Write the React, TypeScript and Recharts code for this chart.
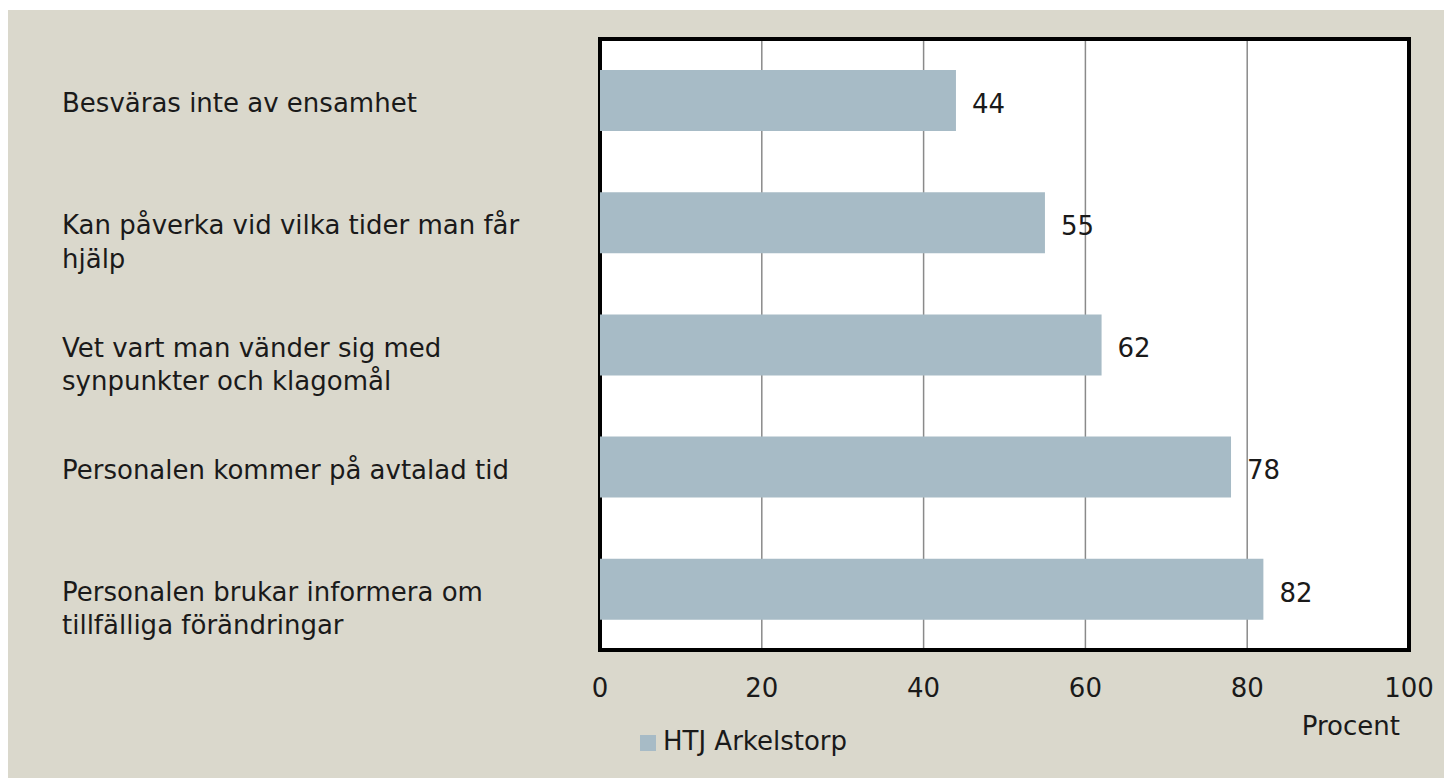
import { BarChart, Bar, XAxis, YAxis, CartesianGrid, Legend, ReferenceArea, LabelList } from 'recharts';

const categories = [
  'Besväras inte av ensamhet',
  'Kan påverka vid vilka tider man får\nhjälp',
  'Vet vart man vänder sig med\nsynpunkter och klagomål',
  'Personalen kommer på avtalad tid',
  'Personalen brukar informera om\ntillfälliga förändringar',
];

const values = [44, 55, 62, 78, 82];

const xTicks = [0, 20, 40, 60, 80, 100];

const seriesName = 'HTJ Arkelstorp';

const data = categories.map((name, i) => ({ name, value: values[i] }));

const FONT = '"DejaVu Sans", sans-serif';
const TEXT = '#1a1a1a';

// left-aligned, multi-line category labels
const CategoryTick = (props: any) => {
  const { y, payload } = props;
  const lines = String(payload.value).split('\n');
  return (
    <text x={54} y={y + 12} textAnchor="start" fill={TEXT} fontSize={26} fontFamily={FONT}>
      {lines.map((line, i) => (
        <tspan key={i} x={54} dy={i === 0 ? 0 : 33.5}>
          {line}
        </tspan>
      ))}
    </text>
  );
};

const App = () => {
  return (
    <div style={{ width: 1444, height: 768, marginTop: 2, backgroundColor: '#dad8cc' }}>
      <BarChart
        width={1444}
        height={768}
        data={data}
        layout="vertical"
        margin={{ top: 29, right: 43, left: 0, bottom: 8 }}
      >
        <CartesianGrid horizontal={false} stroke="#8a8a8a" strokeWidth={1.5} fill="#ffffff" />
        <XAxis
          type="number"
          domain={[0, 100]}
          ticks={xTicks}
          axisLine={false}
          tickLine={false}
          tickSize={0}
          tickMargin={28.5}
          height={90}
          tick={{ fill: TEXT, fontSize: 26, fontFamily: FONT }}
          label={{
            value: 'Procent',
            position: 'insideBottomRight',
            offset: 0,
            dx: -9,
            dy: -5,
            fill: TEXT,
            fontSize: 26,
            fontFamily: FONT,
          }}
        />
        <YAxis
          type="category"
          dataKey="name"
          width={592}
          axisLine={false}
          tickLine={false}
          tick={<CategoryTick />}
          interval={0}
        />
        <ReferenceArea x1={0} x2={100} fill="none" stroke="#000000" strokeWidth={4} />
        <Bar dataKey="value" name={seriesName} fill="#a7bbc6" barSize={61} isAnimationActive={false}>
          <LabelList dataKey="value" position="right" offset={16} dy={3} fill={TEXT} fontSize={26} fontFamily={FONT} />
        </Bar>
        <Legend
          iconType="square"
          iconSize={16}
          wrapperStyle={{ left: 632, top: 716, width: 'auto', fontFamily: FONT, fontSize: 26 }}
          formatter={(value) => <span style={{ color: TEXT, paddingLeft: 3 }}>{value}</span>}
        />
      </BarChart>
    </div>
  );
};

export default App;
